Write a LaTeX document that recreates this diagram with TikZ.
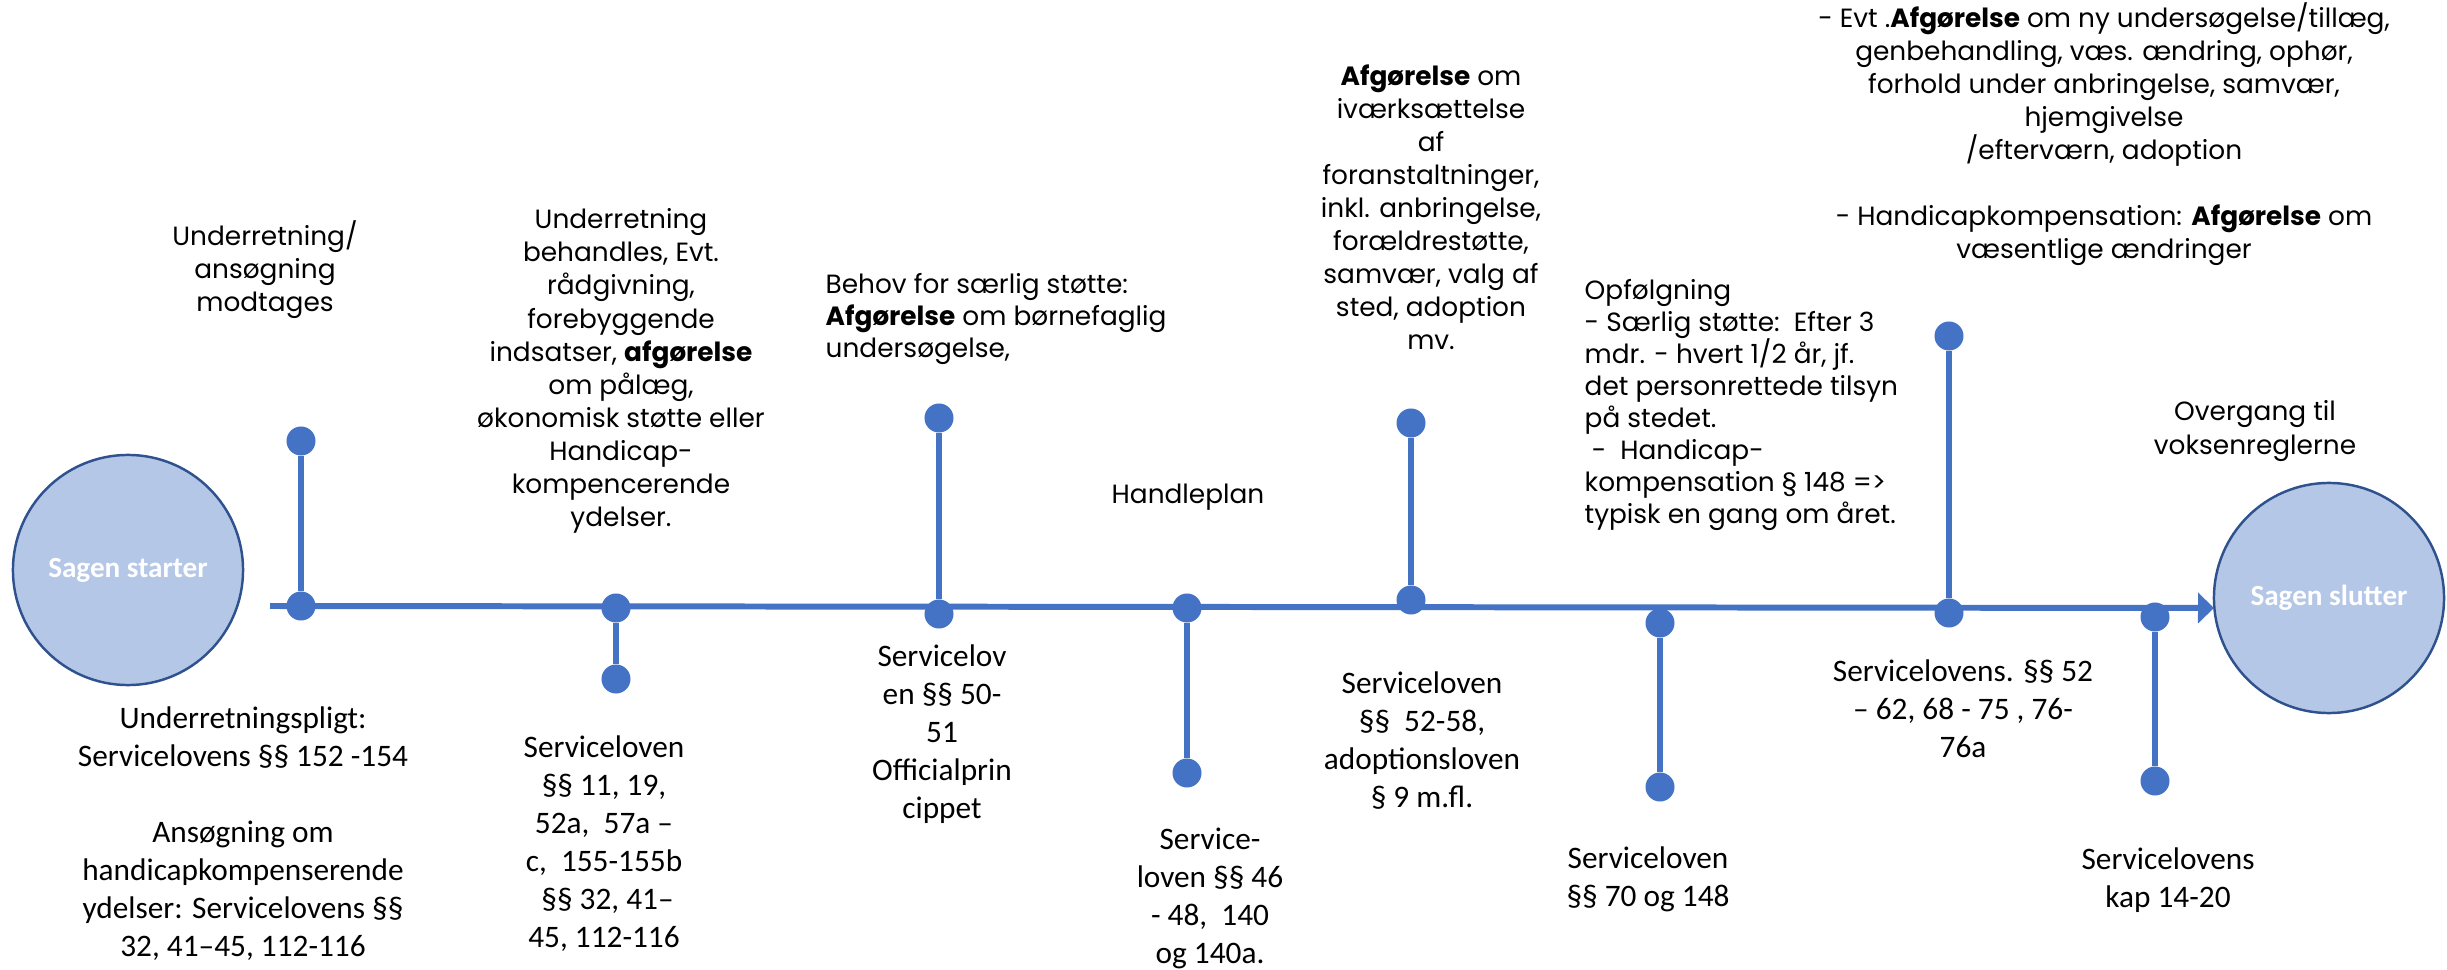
\documentclass[tikz,border=0pt]{standalone}
\usepackage{fontspec}
\setmainfont{Carlito}
\newfontfamily\cg{Poppins}
\usetikzlibrary{arrows.meta}
\definecolor{tlblue}{HTML}{4472C4}
\definecolor{cfill}{HTML}{B4C7E7}
\definecolor{cdraw}{HTML}{2F528F}
\tikzset{
  bigcirc/.style={circle, fill=cfill, draw=cdraw, line width=0.7pt, minimum size=2.3cm, inner sep=0pt, text=white, font=\fontsize{8.3}{10}\selectfont\bfseries},
  tdot/.style={circle, fill=tlblue, minimum size=0.29cm, inner sep=0pt},
  stemline/.style={draw=tlblue, line width=1.7pt},
  toptext/.style={inner sep=0pt, align=center, font=\cg\fontsize{7.5}{9.4}\selectfont},
  toptextl/.style={inner sep=0pt, align=left, anchor=west, font=\cg\fontsize{7.5}{9.1}\selectfont},
  bottext/.style={inner sep=0pt, align=center, font=\fontsize{8.9}{10.8}\selectfont},
}
\begin{document}
\begin{tikzpicture}[x=0.01cm,y=-0.01cm]
\useasboundingbox (0,0) rectangle (2447,970);
% big circles
\node[bigcirc] (start) at (128,570) {Sagen starter};
\node[bigcirc] (end) at (2329,598) {Sagen slutter};
% dots
\node[tdot] (d1t) at (301,441) {};
\node[tdot] (d1b) at (301,606) {};
\node[tdot] (d2t) at (616,608) {};
\node[tdot] (d2b) at (616,679) {};
\node[tdot] (d3t) at (939,418) {};
\node[tdot] (d3b) at (939,614) {};
\node[tdot] (d4t) at (1187,608) {};
\node[tdot] (d4b) at (1187,773) {};
\node[tdot] (d5t) at (1411,423) {};
\node[tdot] (d5b) at (1411,600) {};
\node[tdot] (d6t) at (1660,623) {};
\node[tdot] (d6b) at (1660,787) {};
\node[tdot] (d7t) at (1949,336) {};
\node[tdot] (d7b) at (1949,613) {};
\node[tdot] (d8t) at (2155,617) {};
\node[tdot] (d8b) at (2155,781) {};
% main line
\coordinate (ls) at (270,606);
\coordinate (ae) at (2214,608);
\draw[stemline, -{Triangle[length=0.16cm, width=0.3cm]}] (ls) -- (ae);
% stems
\foreach \i in {1,...,8} { \draw[stemline] (d\i t) -- (d\i b); }
% top texts
\node[toptext] (tA) at (265,270) {Underretning/\\ansøgning\\modtages};
\node[toptext] (tB) at (621,371) {Underretning\\behandles, Evt.\\rådgivning,\\forebyggende\\indsatser, \textbf{afgørelse}\\om pålæg,\\økonomisk støtte eller\\Handicap-\\kompencerende\\ydelser.};
\node[toptextl] (tC) at (825,319) {Behov for særlig støtte:\\\textbf{Afgørelse} om børnefaglig\\undersøgelse,};
\node[toptext] (tD) at (1431,207) {\textbf{Afgørelse} om\\iværksættelse\\af\\foranstaltninger,\\inkl. anbringelse,\\forældrestøtte,\\samvær, valg af\\sted, adoption\\mv.};
\node[toptext] (tE) at (1188,497) {Handleplan};
\node[toptext] (tF) at (2104,134) {- Evt .\textbf{Afgørelse} om ny undersøgelse/tillæg,\\genbehandling, væs. ændring, ophør,\\forhold under anbringelse, samvær,\\hjemgivelse\\/efterværn, adoption\\\mbox{}\\- Handicapkompensation: \textbf{Afgørelse} om\\væsentlige ændringer};
\node[toptextl] (tG) at (1584,405) {Opfølgning\\- Særlig støtte:\ \ Efter 3\\mdr. - hvert 1/2 år, jf.\\det personrettede tilsyn\\på stedet.\\\ -\ \ Handicap-\\kompensation § 148 =>\\typisk en gang om året.};
\node[toptext] (tH) at (2255,431) {Overgang til\\voksenreglerne};
% bottom texts
\node[bottext] (tI) at (243,834) {Underretningspligt:\\Servicelovens §§ 152 -154\\\mbox{}\\Ansøgning om\\handicapkompenserende\\ydelser: Servicelovens §§\\32, 41–45, 112-116};
\node[bottext] (tJ) at (604,844) {Serviceloven\\§§ 11, 19,\\52a,\ \ 57a –\\c,\ \ 155-155b\\\ §§ 32, 41–\\45, 112-116};
\node[bottext] (tK) at (942,734) {Servicelov\\en §§ 50-\\51\\Officialprin\\cippet};
\node[bottext] (tL) at (1210,898) {Service-\\loven §§ 46\\- 48,\ \ 140\\og 140a.};
\node[bottext] (tM) at (1422,741) {Serviceloven\\§§\ \ 52-58,\\adoptionsloven\\§ 9 m.fl.};
\node[bottext] (tN) at (1963,709) {Servicelovens. §§ 52\\– 62, 68 - 75 , 76-\\76a};
\node[bottext] (tO) at (1648,879) {Serviceloven\\§§ 70 og 148};
\node[bottext] (tP) at (2168,880) {Servicelovens\\kap 14-20};
\end{tikzpicture}
\end{document}
